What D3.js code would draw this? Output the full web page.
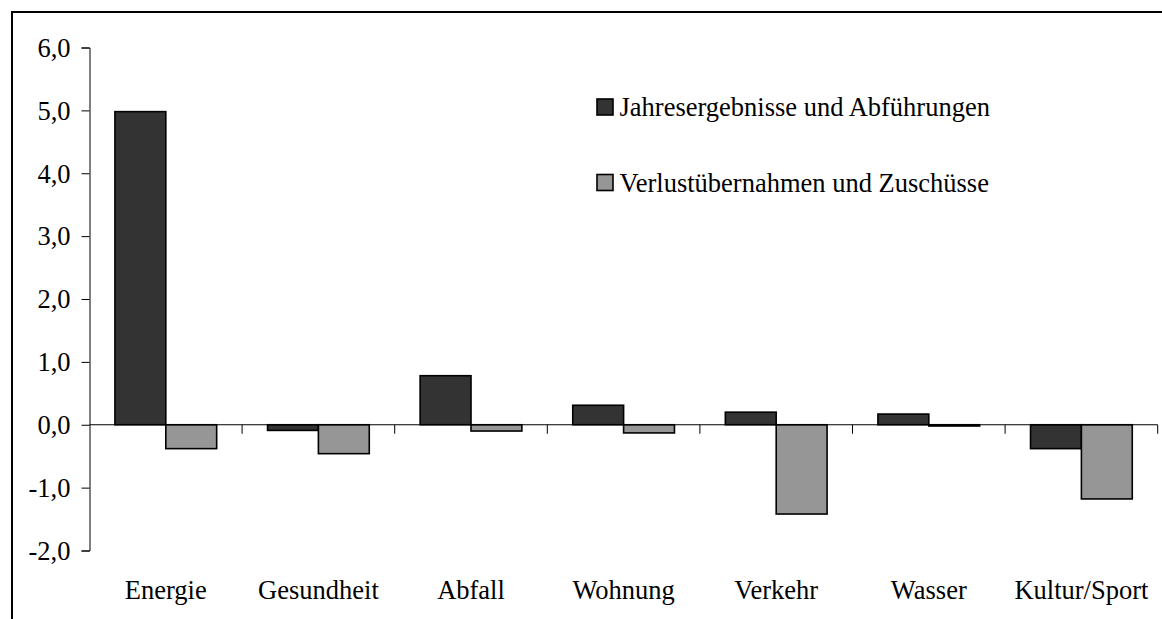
<!DOCTYPE html>
<html>
<head>
<meta charset="utf-8">
<script src="https://cdn.jsdelivr.net/npm/d3@7"></script>
<style>
  html, body { margin: 0; padding: 0; background: #fff; }
  svg text { font-family: "Liberation Serif", "Times New Roman", Times, "DejaVu Serif", serif; }
</style>
</head>
<body>
<svg id="chart" width="1162" height="619"></svg>
<script>
// values
var categories = ['Energie', 'Gesundheit', 'Abfall', 'Wohnung', 'Verkehr', 'Wasser', 'Kultur/Sport'];
var seriesNames = ['Jahresergebnisse und Abführungen', 'Verlustübernahmen und Zuschüsse'];
var jahresergebnisse = [4.98, -0.09, 0.78, 0.31, 0.20, 0.17, -0.38];
var verluste = [-0.38, -0.46, -0.10, -0.13, -1.42, -0.02, -1.18];
var yTicks = [-2, -1, 0, 1, 2, 3, 4, 5, 6];

var colors = ['#333333', '#969696'];
var FONT = '"Liberation Serif", "Times New Roman", Times, "DejaVu Serif", serif';

var svg = d3.select('#chart');

// outer frame (runs off the right and bottom edge)
svg.append('rect')
    .attr('x', 12).attr('y', 12)
    .attr('width', 1200).attr('height', 700)
    .attr('fill', 'none')
    .attr('stroke', '#000')
    .attr('stroke-width', 2);

var y = d3.scaleLinear().domain([-2, 6]).range([550.5, 47.5]);

var x0 = d3.scaleBand()
    .domain(categories)
    .range([89.5, 1157.7])
    .paddingInner(1 / 3)
    .paddingOuter(1 / 6);

var x1 = d3.scaleBand()
    .domain([0, 1])
    .range([0, x0.bandwidth()]);

var step = x0.step();

// y axis, German decimal comma and plain hyphen for minus
var yAxis = d3.axisLeft(y)
    .tickValues(yTicks)
    .tickSize(8)
    .tickPadding(11)
    .tickFormat(function(d) { return d.toFixed(1).replace('.', ','); });

var gy = svg.append('g')
    .attr('transform', 'translate(89.5,0)')
    .call(yAxis)
    .attr('font-family', null)
    .attr('font-size', null);
gy.select('.domain').attr('stroke', '#000').attr('stroke-width', 1);
gy.selectAll('.tick line').attr('stroke', '#000');
gy.selectAll('.tick text')
    .style('font-family', FONT)
    .style('font-size', '26.5px')
    .attr('fill', '#000')
    .attr('dy', '0.33em');

// bars
var rows = categories.map(function(c, i) {
    return { cat: c, values: [jahresergebnisse[i], verluste[i]] };
});

var groups = svg.append('g').selectAll('g')
    .data(rows)
    .join('g')
    .attr('transform', function(d) { return 'translate(' + x0(d.cat) + ',0)'; });

groups.selectAll('rect')
    .data(function(d) { return d.values.map(function(v, k) { return { k: k, v: v }; }); })
    .join('rect')
    .attr('x', function(d) { return x1(d.k); })
    .attr('width', x1.bandwidth())
    .attr('y', function(d) { return y(Math.max(0, d.v)); })
    .attr('height', function(d) { return Math.abs(y(d.v) - y(0)); })
    .attr('fill', function(d) { return colors[d.k]; })
    .attr('stroke', '#000')
    .attr('stroke-width', 1.6);

// x axis line at zero with ticks at category boundaries
var x0start = x0.range()[0];
var gx = svg.append('g');
gx.append('line')
    .attr('x1', x0start).attr('x2', x0.range()[1])
    .attr('y1', y(0)).attr('y2', y(0))
    .attr('stroke', '#000').attr('stroke-width', 1);
gx.selectAll('line.tick')
    .data(d3.range(1, categories.length + 1))
    .join('line')
    .attr('class', 'tick')
    .attr('x1', function(i) { return x0start + i * step; })
    .attr('x2', function(i) { return x0start + i * step; })
    .attr('y1', y(0)).attr('y2', y(0) + 9)
    .attr('stroke', '#000').attr('stroke-width', 1);

// category labels along the bottom
svg.append('g').selectAll('text')
    .data(categories)
    .join('text')
    .attr('x', function(c) { return x0(c) + x0.bandwidth() / 2; })
    .attr('y', 599)
    .attr('text-anchor', 'middle')
    .style('font-family', FONT)
    .style('font-size', '26.5px')
    .attr('fill', '#000')
    .text(function(c) { return c; });

// legend
var legend = svg.append('g').selectAll('g')
    .data(seriesNames)
    .join('g')
    .attr('transform', function(d, i) { return 'translate(597,' + (99 + i * 75.5) + ')'; });
legend.append('rect')
    .attr('width', 16).attr('height', 16)
    .attr('fill', function(d, i) { return colors[i]; })
    .attr('stroke', '#000')
    .attr('stroke-width', 1.6);
legend.append('text')
    .attr('x', 22.5)
    .attr('y', 17)
    .style('font-family', FONT)
    .style('font-size', '26.5px')
    .attr('fill', '#000')
    .text(function(d) { return d; });
</script>
</body>
</html>
